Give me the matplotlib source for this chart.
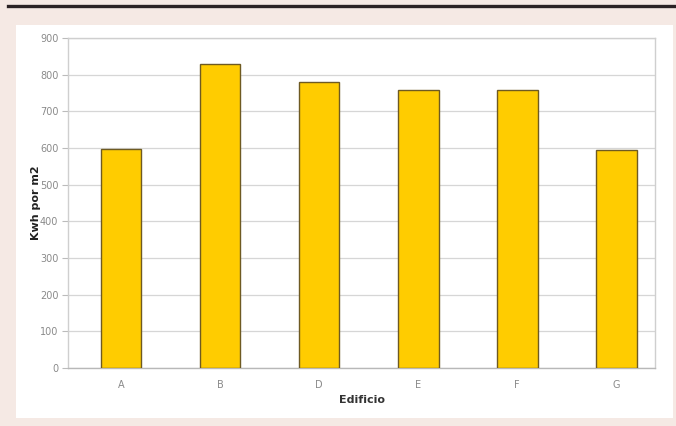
import matplotlib.pyplot as plt
from matplotlib.patches import Rectangle
from matplotlib.lines import Line2D

edificios = ["A", "B", "D", "E", "F", "G"]
kwh_m2 = [598, 828, 780, 758, 758, 595]
y_ticks = list(range(0, 1000, 100))

W, H = 676, 426
fig = plt.figure(figsize=(W / 100, H / 100), dpi=100)
fig.patch.set_facecolor("#F5E9E4")

# white card behind the chart and the dark rule along the top
fig.add_artist(Rectangle((16 / W, 1 - 418 / H), (673 - 16) / W, (418 - 25) / H,
                         transform=fig.transFigure, facecolor="white",
                         edgecolor="none", zorder=0))
fig.add_artist(Line2D([8 / W, 1], [1 - 6 / H, 1 - 6 / H], transform=fig.transFigure,
                      color="#2a2224", linewidth=2.4, zorder=1))

ax = fig.add_axes([68 / W, 1 - 368 / H, (655 - 68) / W, (368 - 38) / H])
ax.set_facecolor("white")

x = range(len(edificios))
ax.bar(x, kwh_m2, width=0.41, color="#FFCC00", edgecolor="#6e5a22",
       linewidth=1.0, zorder=3)

ax.set_xlim(-0.535, 5.39)
ax.set_ylim(0, 900)
ax.set_yticks(y_ticks)
ax.set_xticks(list(x))
ax.set_xticklabels(edificios)
ax.yaxis.grid(True, color="#d6d6d6", linewidth=0.9, zorder=0)

for side in ["top", "right", "left", "bottom"]:
    ax.spines[side].set_color("#cfcfcf")
    ax.spines[side].set_linewidth(1.0)
ax.spines["bottom"].set_color("#b8b8b8")

ax.tick_params(axis="y", length=4, color="#bbbbbb", labelsize=7, labelcolor="#8a8a8a", pad=3)
ax.tick_params(axis="x", length=0, labelsize=7, labelcolor="#8a8a8a", pad=9)

ax.set_xlabel("Edificio", fontsize=8, fontweight="bold", color="#333333", labelpad=3)
ax.set_ylabel("Kwh por m2", fontsize=8, fontweight="bold", color="#222222", labelpad=-1)

fig.savefig("out.png", dpi=100, facecolor=fig.get_facecolor())
